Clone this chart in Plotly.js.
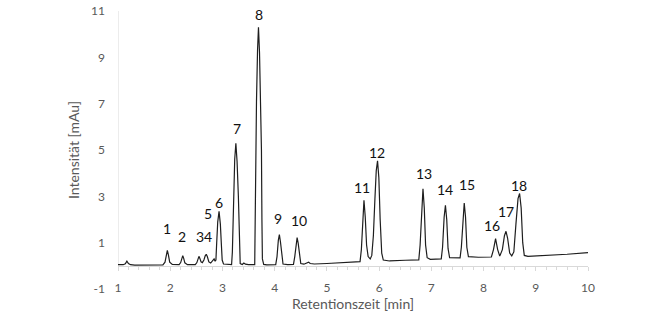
<!DOCTYPE html>
<html>
<head>
<meta charset="utf-8">
<script src="https://cdn.plot.ly/plotly-3.0.1.min.js"></script>
<style>html,body{margin:0;padding:0;background:#fff;}#chart{width:660px;height:318px;}</style>
</head>
<body>
<div id="chart"></div>
<script>
// Chromatogram
const retentionTime = [
  1.00,1.10,1.14,1.17,1.20,1.24,1.32,1.60,
  1.86,1.90,1.925,1.945,1.965,1.99,2.04,
  2.17,2.20,2.222,2.24,2.258,2.28,2.33,
  2.48,2.51,2.532,2.55,2.568,2.59,2.615,
  2.645,2.67,2.69,2.71,2.74,2.775,
  2.81,2.84,2.86,
  2.875,2.89,2.91,2.935,2.96,2.98,2.995,3.02,3.10,
  3.175,3.19,3.21,3.235,3.257,3.28,3.305,3.325,3.34,3.38,3.41,3.44,3.50,
  3.618,3.627,3.635,3.652,3.672,3.69,3.71,3.73,3.747,3.756,3.765,3.79,3.85,
  4.02,4.045,4.07,4.09,4.11,4.135,4.16,4.25,
  4.36,4.385,4.41,4.43,4.45,4.475,4.50,4.56,4.62,4.65,4.68,4.76,
  5.00,5.30,5.60,
  5.635,5.66,5.685,5.71,5.735,5.76,5.79,5.83,
  5.86,5.89,5.92,5.945,5.97,5.995,6.02,6.05,6.08,6.20,6.50,
  6.76,6.785,6.815,6.84,6.865,6.89,6.92,6.98,
  7.19,7.215,7.245,7.27,7.295,7.32,7.35,7.45,
  7.55,7.575,7.605,7.63,7.655,7.68,7.71,7.90,
  8.15,8.19,8.23,8.27,8.31,
  8.36,8.40,8.43,8.46,8.50,8.54,
  8.58,8.62,8.66,8.69,8.72,8.75,8.78,8.85,9.20,9.60,10.00
];
const intensity = [
  0.05,0.05,0.09,0.20,0.10,0.05,0.03,0.03,
  0.04,0.16,0.48,0.67,0.47,0.16,0.06,
  0.05,0.14,0.33,0.44,0.32,0.13,0.05,
  0.05,0.14,0.32,0.41,0.32,0.17,0.14,
  0.25,0.43,0.50,0.40,0.17,0.12,
  0.22,0.30,0.20,
  0.25,1.00,1.90,2.35,1.80,0.90,0.25,0.08,0.05,
  0.05,0.60,3.00,4.60,5.29,4.50,3.00,0.60,0.10,0.06,0.12,0.07,0.05,
  0.05,2.00,5.00,7.10,9.30,10.30,9.20,7.00,5.00,2.00,0.30,0.06,0.04,
  0.05,0.40,1.10,1.35,1.05,0.40,0.08,0.05,
  0.06,0.40,1.00,1.22,0.98,0.40,0.10,0.07,0.12,0.16,0.10,0.08,
  0.10,0.13,0.15,
  0.18,0.70,2.10,2.83,2.10,0.90,0.40,0.30,
  0.45,1.30,2.90,4.10,4.53,3.80,2.00,0.55,0.25,0.21,0.24,
  0.26,0.90,2.60,3.33,2.50,0.90,0.35,0.28,
  0.30,0.80,2.10,2.61,2.00,0.75,0.35,0.33,
  0.34,0.80,2.20,2.71,2.10,0.80,0.40,0.37,
  0.38,0.70,1.17,0.70,0.42,
  0.70,1.30,1.49,1.20,0.55,0.43,
  0.60,1.80,2.90,3.12,2.50,1.00,0.45,0.41,0.44,0.50,0.57
];
// Peak labels and where they are written (data units)
const peakNames = ["1","2","34","5","6","7","8","9","10","11","12","13","14","15","16","17","18"];
const labelTime = [1.93,2.23,2.64,2.73,2.93,3.27,3.70,4.07,4.46,5.68,5.96,6.85,7.26,7.69,8.17,8.43,8.68];
const labelIntensity = [1.63,1.27,1.27,2.28,2.73,5.93,10.83,2.03,1.97,3.37,4.89,3.97,3.30,3.52,1.72,2.36,3.48];
const xTicks = [1,2,3,4,5,6,7,8,9,10];
const yTicks = [-1,1,3,5,7,9,11];

const FONT = "Lato, 'Open Sans', sans-serif";
const GREY = "#595959";
const AXIS = "#d9d9d9";

const trace = {
  x: retentionTime, y: intensity, type: "scatter", mode: "lines",
  line: {color: "#1e1e1e", width: 1.2}, hoverinfo: "skip", showlegend: false
};

const annotations = peakNames.map((t, i) => ({
  x: labelTime[i], y: labelIntensity[i], xref: "x", yref: "y", text: t,
  showarrow: false, xanchor: "center", yanchor: "middle",
  font: {family: FONT, size: 14, color: "#111"}
}));

const layout = {
  width: 660, height: 318,
  margin: {l: 118, r: 72, t: 11, b: 29, pad: 0},
  paper_bgcolor: "#fff", plot_bgcolor: "#fff",
  font: {family: FONT, color: GREY},
  showlegend: false,
  xaxis: {
    range: [1, 10], anchor: "free", position: 1/12,
    tickvals: xTicks, ticktext: xTicks.map(String),
    showline: true, linecolor: AXIS, linewidth: 1,
    ticks: "outside", ticklen: 4, tickcolor: AXIS, tickwidth: 1,
    minor: {dtick: 0.2, tick0: 1, ticks: "outside", ticklen: 3, tickcolor: AXIS, tickwidth: 1},
    ticklabelstandoff: 7,
    tickfont: {family: FONT, size: 12, color: GREY},
    showgrid: false, zeroline: false,
    title: {text: "Retentionszeit [min]", font: {family: FONT, size: 14, color: GREY}, standoff: 4}
  },
  yaxis: {
    range: [-1, 11], tickvals: yTicks, ticktext: yTicks.map(String),
    ticks: "", showline: false, showgrid: false, zeroline: false,
    ticklabelstandoff: 12,
    tickfont: {family: FONT, size: 12, color: GREY},
    title: {text: "Intensität [mAu]", font: {family: FONT, size: 14, color: GREY}, standoff: 8}
  },
  shapes: [{type: "line", xref: "x", yref: "y", x0: 1, x1: 1, y0: 0, y1: 11,
            line: {color: AXIS, width: 1}, layer: "below"}],
  annotations: annotations
};

Plotly.newPlot("chart", [trace], layout, {staticPlot: true, displayModeBar: false});
</script>
</body>
</html>
